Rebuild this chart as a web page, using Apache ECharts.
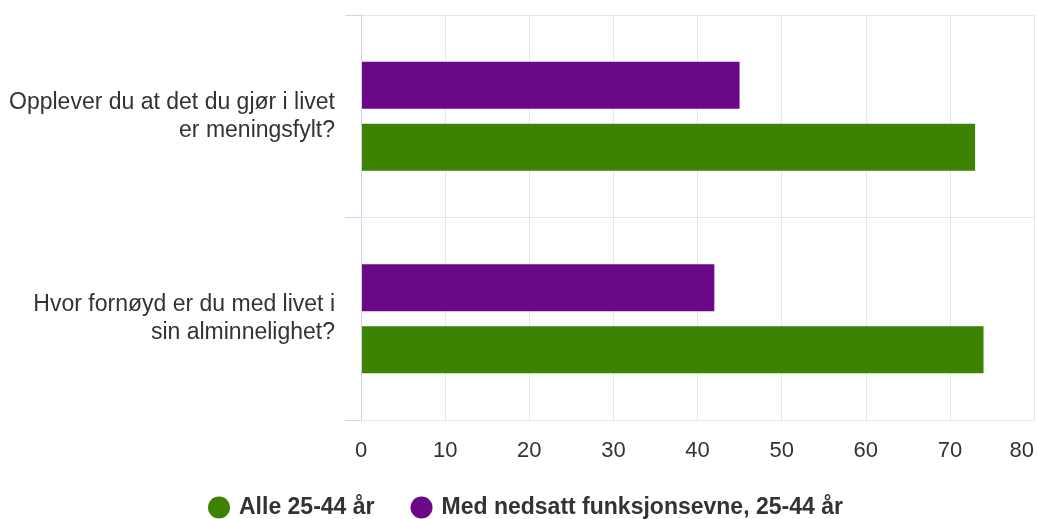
<!DOCTYPE html>
<html><head><meta charset="utf-8">
<script src="https://cdn.jsdelivr.net/npm/echarts@6/dist/echarts.min.js"></script>
<style>html,body{margin:0;padding:0;background:#fff}#c{width:1037px;height:519px}</style>
</head><body><div id="c"></div>
<script>
const categories = ["Opplever du at det du gjør i livet\ner meningsfylt?", "Hvor fornøyd er du med livet i\nsin alminnelighet?"];
const seriesNames = ["Alle 25-44 år", "Med nedsatt funksjonsevne, 25-44 år"];
const alleValues = [73, 74];
const nedsattValues = [45, 42];
const xTicks = [0, 80, 10];

const chart = echarts.init(document.getElementById('c'));
const font = 'Liberation Sans, Arial, Helvetica, sans-serif';
chart.setOption({
  animation: false,
  textStyle: { fontFamily: font },
  grid: { left: 361, right: 3, top: 15, bottom: 99, containLabel: false },
  legend: {
    left: 203, top: 491, icon: 'circle', itemWidth: 22, itemHeight: 22, itemGap: 36,
    textStyle: { fontFamily: font, fontSize: 23, fontWeight: 'bold', color: '#333', padding: [0, 0, 0, 4] },
    data: seriesNames
  },
  xAxis: {
    type: 'value', min: xTicks[0], max: xTicks[1], interval: xTicks[2],
    axisLine: { show: false }, axisTick: { show: false },
    axisLabel: { fontFamily: font, fontSize: 22, color: '#333', margin: 20, alignMaxLabel: 'right' },
    splitLine: { lineStyle: { color: '#e6e6e6', width: 1 } }
  },
  yAxis: {
    type: 'category', inverse: true, data: categories,
    axisLine: { show: true, lineStyle: { color: '#ccd6eb', width: 1 } },
    axisTick: { show: true, length: 16, lineStyle: { color: '#ccd6eb', width: 1 } },
    axisLabel: { fontFamily: font, fontSize: 23, color: '#333', margin: 26, lineHeight: 28, align: 'right', padding: [6, 0, 0, 0] },
    splitLine: { show: true, lineStyle: { color: '#e6e6e6', width: 1 } },
    z: 5
  },
  series: [
    { name: seriesNames[1], type: 'bar', data: nedsattValues, barWidth: 47, barGap: '32%',
      itemStyle: { color: '#6a0888' } },
    { name: seriesNames[0], type: 'bar', data: alleValues, barWidth: 47, barGap: '32%',
      itemStyle: { color: '#3d8200' } }
  ]
});
</script></body></html>
